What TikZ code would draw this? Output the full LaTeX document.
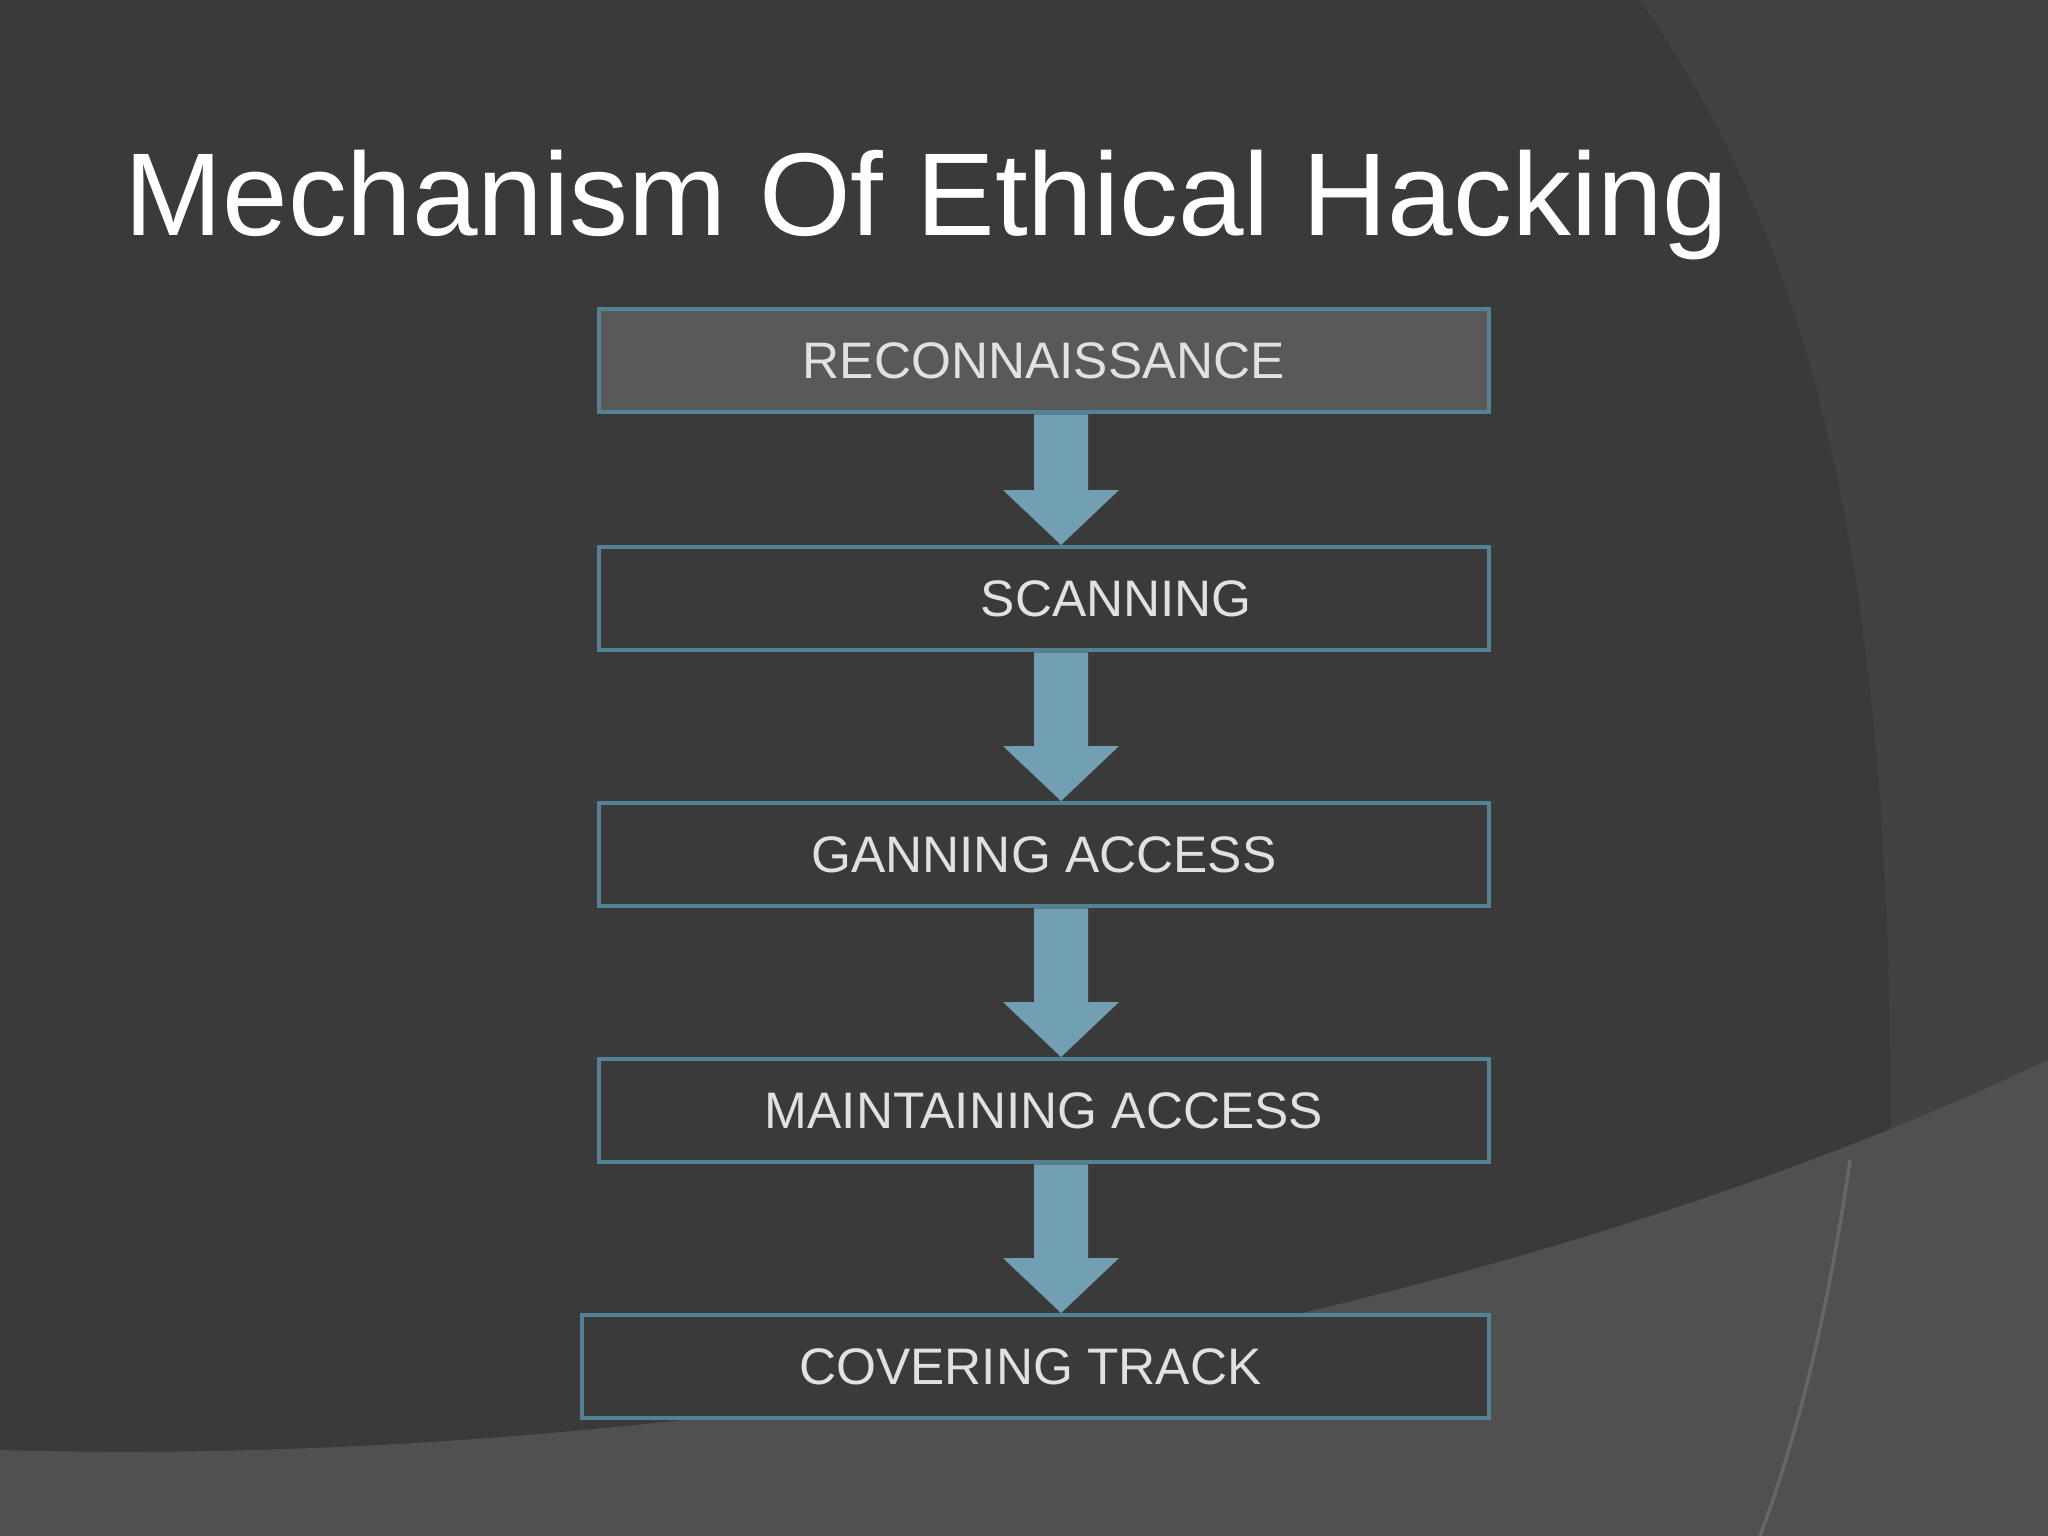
\documentclass[tikz,border=0pt]{standalone}
\usepackage{fontspec}
\setmainfont{Liberation Sans}
\usetikzlibrary{calc}
\definecolor{bg}{RGB}{58,58,58}
\definecolor{bgr}{RGB}{66,66,66}
\definecolor{bgb}{RGB}{80,80,81}
\definecolor{boxline}{RGB}{84,130,148}
\definecolor{arr}{RGB}{112,160,178}
\definecolor{txt}{RGB}{225,225,225}
\definecolor{topfill}{RGB}{89,89,89}
\begin{document}
\begin{tikzpicture}[x=0.01cm,y=-0.01cm,
  stepbox/.style={draw=boxline,line width=1.2pt,fill=bg,minimum height=1.03cm,text=txt,font=\fontsize{14.6}{17}\selectfont,inner sep=0pt}]
\useasboundingbox (0,0) rectangle (2048,1536);
\fill[bg] (0,0) rectangle (2048,1536);
\fill[bgr] (1640,0) .. controls (1850,300) and (1920,700) .. (1880,1536) -- (2048,1536) -- (2048,0) -- cycle;
\fill[bgb] (0,1450) .. controls (700,1470) and (1500,1320) .. (2048,1060) -- (2048,1536) -- (0,1536) -- cycle;
\draw[black!60,line width=1pt] (1850,1160) .. controls (1830,1300) and (1800,1430) .. (1760,1536);
\node[anchor=base west,text=white,font=\fontsize{33.5}{40}\selectfont] (title) at (112,235) {Mechanism Of Ethical Hacking};
\node[stepbox,fill=topfill,minimum width=8.89cm,anchor=north west] (b1) at (597,307) {RECONNAISSANCE};
\node[stepbox,minimum width=8.89cm,anchor=north west] (b2) at (597,545) {\hspace*{1.45cm}SCANNING};
\node[stepbox,minimum width=8.89cm,anchor=north west] (b3) at (597,801) {GANNING ACCESS};
\node[stepbox,minimum width=8.89cm,anchor=north west] (b4) at (597,1057) {MAINTAINING ACCESS};
\node[stepbox,minimum width=9.06cm,anchor=north west] (b5) at (580,1313) {\hspace*{-0.1cm}COVERING TRACK};
\coordinate (ax) at (1061,0);
\foreach \a/\b in {b1/b2,b2/b3,b3/b4,b4/b5}{
  \coordinate (s) at (\a.south -| ax);
  \coordinate (t) at (\b.north -| ax);
  \fill[arr] ($(s)+(-27,0)$) -- ($(t)+(-27,-55)$) -- ($(t)+(-58,-55)$) -- (t) -- ($(t)+(58,-55)$) -- ($(t)+(27,-55)$) -- ($(s)+(27,0)$) -- cycle;
}
\end{tikzpicture}
\end{document}
